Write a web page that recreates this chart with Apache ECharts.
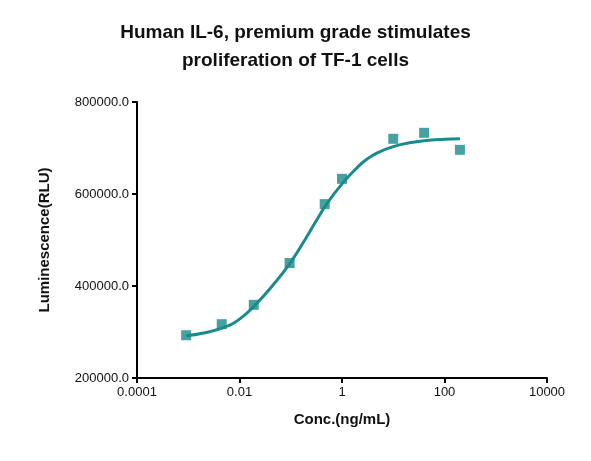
<!DOCTYPE html><html><head><meta charset="utf-8"><script src="https://cdn.jsdelivr.net/npm/echarts@6/dist/echarts.min.js"></script></head><body style="margin:0"><div id="c" style="width:591px;height:461px"></div><script>
const conc=[0.00091,0.0045,0.019,0.095,0.46,1,10,40,200];
const lum=[293000,317000,359000,450000,578000,633000,720000,733000,696000];
const errLow=[293000,317000,359000,450000,578000,633000,716000,720000,684000];
const errHigh=[293000,317000,359000,450000,578000,633000,724000,746000,708000];
const fitX=[0.00091,0.002,0.005,0.01,0.02,0.05,0.1,0.2,0.3,0.5,1,2,3,5,10,20,40,100,200];
const fitY=[292000,298000,310000,328000,358000,408000,452000,505000,538000,578000,622000,658000,675000,690000,703000,711000,716000,719000,720000];
const col='#1a8a8a';
const ch=echarts.init(document.getElementById('c'));
ch.setOption({
title:{text:'Human IL-6, premium grade stimulates\nproliferation of TF-1 cells',left:'center',top:14,textStyle:{fontSize:19,fontWeight:'bold',color:'#111',lineHeight:28,fontFamily:'Liberation Sans'}},
grid:{left:137,right:44,top:102,bottom:83},
xAxis:{type:'log',min:0.0001,max:10000,logBase:100,name:'Conc.(ng/mL)',nameLocation:'middle',nameGap:34,nameTextStyle:{fontSize:15,fontWeight:'bold',color:'#111'},axisLine:{lineStyle:{color:'#000',width:2}},axisTick:{lineStyle:{color:'#000',width:2}},minorTick:{show:false},axisLabel:{color:'#111',fontSize:13,formatter:v=>v>=1?String(v):String(+v.toPrecision(1))},splitLine:{show:false}},
yAxis:{type:'value',min:200000,max:800000,interval:200000,name:'Luminescence(RLU)',nameLocation:'middle',nameGap:85,nameTextStyle:{fontSize:15,fontWeight:'bold',color:'#111'},axisLine:{show:true,lineStyle:{color:'#000',width:2}},axisTick:{show:true,lineStyle:{color:'#000',width:2}},axisLabel:{color:'#111',fontSize:13,formatter:v=>v.toFixed(1)},splitLine:{show:false}},
series:[
{type:'line',data:fitX.map((x,i)=>[x,fitY[i]]),smooth:true,symbol:'none',lineStyle:{color:col,width:3}},
{type:'scatter',data:conc.map((x,i)=>[x,lum[i]]),symbol:'rect',symbolSize:10,itemStyle:{color:col}},
{type:'custom',data:conc.map((x,i)=>[x,errLow[i],errHigh[i]]),renderItem:(p,api)=>{const a=api.coord([api.value(0),api.value(1)]),b=api.coord([api.value(0),api.value(2)]);if(Math.abs(a[1]-b[1])<12)return {type:'group',children:[]};const s={stroke:col,lineWidth:2};return {type:'group',children:[{type:'line',shape:{x1:a[0],y1:a[1],x2:b[0],y2:b[1]},style:s},{type:'line',shape:{x1:a[0]-6,y1:a[1],x2:a[0]+6,y2:a[1]},style:s},{type:'line',shape:{x1:b[0]-6,y1:b[1],x2:b[0]+6,y2:b[1]},style:s}]};}}
]});
</script></body></html>
